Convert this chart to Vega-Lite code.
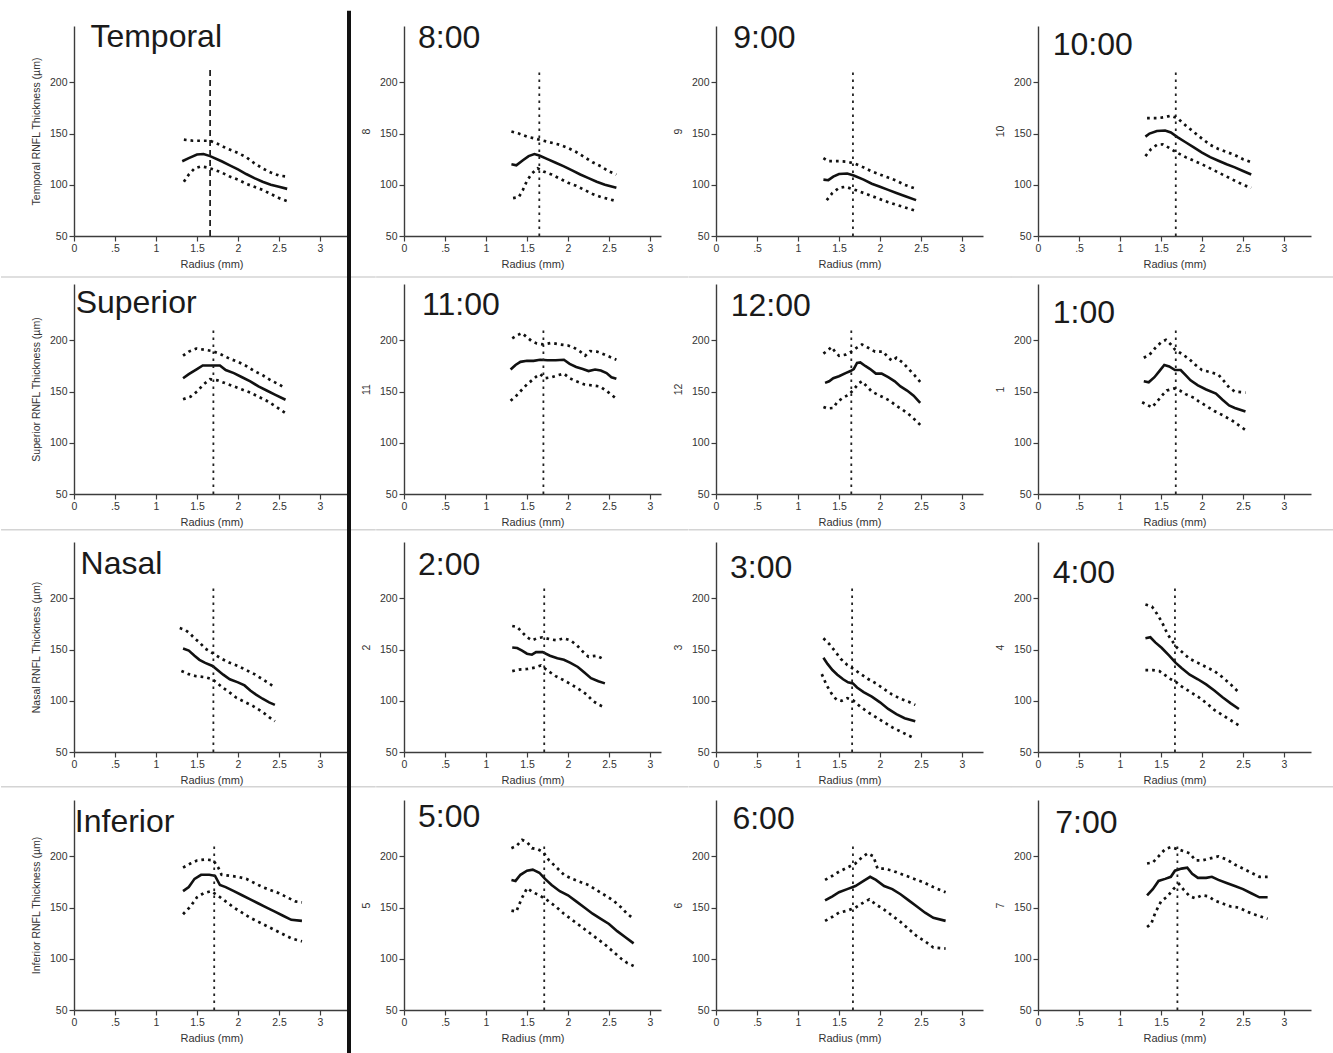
{
"$schema":"https://vega.github.io/schema/vega-lite/v6.json",
"background":"white",
"padding":{"left":0,"top":8,"right":0,"bottom":0},
"config":{
 "view":{"stroke":null},
 "axis":{"grid":false,"domainColor":"#3c3c3c","domainWidth":1.4,"tickColor":"#3c3c3c","tickWidth":1.2,"labelFont":"Liberation Sans","labelFontSize":10.5,"labelColor":"#333333","labelPadding":2,"labelOverlap":false,"labelFlush":false,"titleFont":"Liberation Sans","titleFontWeight":"normal","titleColor":"#333333"},
 "axisX":{"titleFontSize":11,"titlePadding":5},
 "axisY":{"titleFontSize":10.5,"titlePadding":8}
},
"datasets":{
"vl":[{"p":"T","r":1.66},{"p":"8","r":1.65},{"p":"9","r":1.67},{"p":"10","r":1.68},{"p":"S","r":1.70},{"p":"11","r":1.70},{"p":"12","r":1.65},{"p":"1","r":1.68},{"p":"N","r":1.70},{"p":"2","r":1.71},{"p":"3","r":1.66},{"p":"4","r":1.67},{"p":"I","r":1.71},{"p":"5","r":1.71},{"p":"6","r":1.67},{"p":"7","r":1.70}],
"c":[
{"p":"T","s":"m","r":1.32,"t":123},{"p":"T","s":"m","r":1.4,"t":126},{"p":"T","s":"m","r":1.5,"t":129.5},{"p":"T","s":"m","r":1.58,"t":130},{"p":"T","s":"m","r":1.66,"t":128},{"p":"T","s":"m","r":1.8,"t":123},{"p":"T","s":"m","r":1.9,"t":119},{"p":"T","s":"m","r":2.0,"t":115},{"p":"T","s":"m","r":2.1,"t":110.5},{"p":"T","s":"m","r":2.2,"t":106.5},{"p":"T","s":"m","r":2.3,"t":103},{"p":"T","s":"m","r":2.4,"t":100},{"p":"T","s":"m","r":2.5,"t":98},{"p":"T","s":"m","r":2.6,"t":96},
{"p":"T","s":"u","r":1.34,"t":144},{"p":"T","s":"u","r":1.45,"t":143},{"p":"T","s":"u","r":1.55,"t":143},{"p":"T","s":"u","r":1.66,"t":143},{"p":"T","s":"u","r":1.75,"t":140},{"p":"T","s":"u","r":1.85,"t":136},{"p":"T","s":"u","r":2.0,"t":131},{"p":"T","s":"u","r":2.1,"t":127},{"p":"T","s":"u","r":2.2,"t":121},{"p":"T","s":"u","r":2.3,"t":116},{"p":"T","s":"u","r":2.4,"t":112},{"p":"T","s":"u","r":2.5,"t":109},{"p":"T","s":"u","r":2.6,"t":108},
{"p":"T","s":"l","r":1.34,"t":103},{"p":"T","s":"l","r":1.4,"t":110},{"p":"T","s":"l","r":1.47,"t":116},{"p":"T","s":"l","r":1.55,"t":118},{"p":"T","s":"l","r":1.62,"t":117},{"p":"T","s":"l","r":1.7,"t":115},{"p":"T","s":"l","r":1.8,"t":112},{"p":"T","s":"l","r":1.9,"t":108},{"p":"T","s":"l","r":2.0,"t":105},{"p":"T","s":"l","r":2.1,"t":101},{"p":"T","s":"l","r":2.2,"t":98},{"p":"T","s":"l","r":2.3,"t":95},{"p":"T","s":"l","r":2.4,"t":91},{"p":"T","s":"l","r":2.5,"t":87},{"p":"T","s":"l","r":2.6,"t":84},
{"p":"8","s":"m","r":1.31,"t":120},{"p":"8","s":"m","r":1.37,"t":119},{"p":"8","s":"m","r":1.45,"t":124},{"p":"8","s":"m","r":1.52,"t":128},{"p":"8","s":"m","r":1.59,"t":130},{"p":"8","s":"m","r":1.65,"t":128.5},{"p":"8","s":"m","r":1.75,"t":125},{"p":"8","s":"m","r":1.85,"t":121.5},{"p":"8","s":"m","r":1.95,"t":118},{"p":"8","s":"m","r":2.05,"t":114},{"p":"8","s":"m","r":2.15,"t":110},{"p":"8","s":"m","r":2.25,"t":106.5},{"p":"8","s":"m","r":2.35,"t":103},{"p":"8","s":"m","r":2.45,"t":100},{"p":"8","s":"m","r":2.59,"t":97},
{"p":"8","s":"u","r":1.31,"t":152},{"p":"8","s":"u","r":1.4,"t":150},{"p":"8","s":"u","r":1.5,"t":147},{"p":"8","s":"u","r":1.6,"t":145},{"p":"8","s":"u","r":1.7,"t":143},{"p":"8","s":"u","r":1.8,"t":141},{"p":"8","s":"u","r":1.9,"t":139},{"p":"8","s":"u","r":2.0,"t":136},{"p":"8","s":"u","r":2.1,"t":132},{"p":"8","s":"u","r":2.2,"t":127},{"p":"8","s":"u","r":2.3,"t":122},{"p":"8","s":"u","r":2.4,"t":118},{"p":"8","s":"u","r":2.5,"t":113},{"p":"8","s":"u","r":2.59,"t":110},
{"p":"8","s":"l","r":1.33,"t":87},{"p":"8","s":"l","r":1.4,"t":88},{"p":"8","s":"l","r":1.45,"t":95},{"p":"8","s":"l","r":1.5,"t":104},{"p":"8","s":"l","r":1.56,"t":111},{"p":"8","s":"l","r":1.63,"t":116},{"p":"8","s":"l","r":1.7,"t":113},{"p":"8","s":"l","r":1.8,"t":110},{"p":"8","s":"l","r":1.9,"t":106},{"p":"8","s":"l","r":2.0,"t":102},{"p":"8","s":"l","r":2.1,"t":99},{"p":"8","s":"l","r":2.2,"t":95},{"p":"8","s":"l","r":2.3,"t":91},{"p":"8","s":"l","r":2.4,"t":88},{"p":"8","s":"l","r":2.5,"t":86},{"p":"8","s":"l","r":2.59,"t":84},
{"p":"9","s":"m","r":1.31,"t":105},{"p":"9","s":"m","r":1.37,"t":104.5},{"p":"9","s":"m","r":1.43,"t":108},{"p":"9","s":"m","r":1.5,"t":110.5},{"p":"9","s":"m","r":1.6,"t":111},{"p":"9","s":"m","r":1.68,"t":109},{"p":"9","s":"m","r":1.8,"t":105},{"p":"9","s":"m","r":1.9,"t":101},{"p":"9","s":"m","r":2.0,"t":98},{"p":"9","s":"m","r":2.1,"t":95},{"p":"9","s":"m","r":2.2,"t":92},{"p":"9","s":"m","r":2.3,"t":89},{"p":"9","s":"m","r":2.44,"t":85},
{"p":"9","s":"u","r":1.31,"t":126},{"p":"9","s":"u","r":1.37,"t":123},{"p":"9","s":"u","r":1.5,"t":123},{"p":"9","s":"u","r":1.6,"t":122.5},{"p":"9","s":"u","r":1.68,"t":121},{"p":"9","s":"u","r":1.8,"t":117},{"p":"9","s":"u","r":1.9,"t":113},{"p":"9","s":"u","r":2.0,"t":110},{"p":"9","s":"u","r":2.1,"t":107},{"p":"9","s":"u","r":2.2,"t":104},{"p":"9","s":"u","r":2.3,"t":100},{"p":"9","s":"u","r":2.44,"t":96},
{"p":"9","s":"l","r":1.35,"t":85},{"p":"9","s":"l","r":1.42,"t":92},{"p":"9","s":"l","r":1.5,"t":97},{"p":"9","s":"l","r":1.58,"t":98},{"p":"9","s":"l","r":1.68,"t":95.5},{"p":"9","s":"l","r":1.8,"t":92},{"p":"9","s":"l","r":1.9,"t":89},{"p":"9","s":"l","r":2.0,"t":86},{"p":"9","s":"l","r":2.1,"t":83},{"p":"9","s":"l","r":2.2,"t":80.5},{"p":"9","s":"l","r":2.3,"t":78},{"p":"9","s":"l","r":2.44,"t":74.5},
{"p":"10","s":"m","r":1.31,"t":147},{"p":"10","s":"m","r":1.36,"t":150},{"p":"10","s":"m","r":1.45,"t":152.5},{"p":"10","s":"m","r":1.55,"t":153},{"p":"10","s":"m","r":1.62,"t":151},{"p":"10","s":"m","r":1.7,"t":146.5},{"p":"10","s":"m","r":1.8,"t":141.5},{"p":"10","s":"m","r":1.9,"t":136.5},{"p":"10","s":"m","r":2.0,"t":131.5},{"p":"10","s":"m","r":2.1,"t":127},{"p":"10","s":"m","r":2.2,"t":123.5},{"p":"10","s":"m","r":2.3,"t":120},{"p":"10","s":"m","r":2.4,"t":117},{"p":"10","s":"m","r":2.5,"t":113.5},{"p":"10","s":"m","r":2.6,"t":110},
{"p":"10","s":"u","r":1.33,"t":165},{"p":"10","s":"u","r":1.45,"t":165},{"p":"10","s":"u","r":1.55,"t":166},{"p":"10","s":"u","r":1.62,"t":167.5},{"p":"10","s":"u","r":1.7,"t":165},{"p":"10","s":"u","r":1.8,"t":158},{"p":"10","s":"u","r":1.9,"t":151.5},{"p":"10","s":"u","r":2.0,"t":145},{"p":"10","s":"u","r":2.1,"t":139},{"p":"10","s":"u","r":2.2,"t":135},{"p":"10","s":"u","r":2.3,"t":132},{"p":"10","s":"u","r":2.4,"t":129},{"p":"10","s":"u","r":2.5,"t":125},{"p":"10","s":"u","r":2.6,"t":122},
{"p":"10","s":"l","r":1.31,"t":128},{"p":"10","s":"l","r":1.38,"t":135},{"p":"10","s":"l","r":1.45,"t":139},{"p":"10","s":"l","r":1.52,"t":139.5},{"p":"10","s":"l","r":1.6,"t":136},{"p":"10","s":"l","r":1.68,"t":132},{"p":"10","s":"l","r":1.8,"t":127},{"p":"10","s":"l","r":1.9,"t":123.5},{"p":"10","s":"l","r":2.0,"t":120},{"p":"10","s":"l","r":2.1,"t":116},{"p":"10","s":"l","r":2.2,"t":112},{"p":"10","s":"l","r":2.3,"t":108},{"p":"10","s":"l","r":2.4,"t":104},{"p":"10","s":"l","r":2.5,"t":100},{"p":"10","s":"l","r":2.6,"t":97},
{"p":"S","s":"m","r":1.33,"t":163},{"p":"S","s":"m","r":1.4,"t":167},{"p":"S","s":"m","r":1.5,"t":172},{"p":"S","s":"m","r":1.57,"t":175.5},{"p":"S","s":"m","r":1.65,"t":175.5},{"p":"S","s":"m","r":1.78,"t":175.5},{"p":"S","s":"m","r":1.85,"t":171},{"p":"S","s":"m","r":1.95,"t":168},{"p":"S","s":"m","r":2.05,"t":164},{"p":"S","s":"m","r":2.15,"t":160},{"p":"S","s":"m","r":2.25,"t":155},{"p":"S","s":"m","r":2.35,"t":151},{"p":"S","s":"m","r":2.45,"t":147},{"p":"S","s":"m","r":2.58,"t":142},
{"p":"S","s":"u","r":1.33,"t":185},{"p":"S","s":"u","r":1.4,"t":189},{"p":"S","s":"u","r":1.49,"t":192},{"p":"S","s":"u","r":1.58,"t":191},{"p":"S","s":"u","r":1.69,"t":189.5},{"p":"S","s":"u","r":1.8,"t":186},{"p":"S","s":"u","r":1.9,"t":182},{"p":"S","s":"u","r":2.0,"t":179},{"p":"S","s":"u","r":2.1,"t":175},{"p":"S","s":"u","r":2.2,"t":170},{"p":"S","s":"u","r":2.3,"t":166},{"p":"S","s":"u","r":2.4,"t":161},{"p":"S","s":"u","r":2.5,"t":157},{"p":"S","s":"u","r":2.58,"t":153},
{"p":"S","s":"l","r":1.33,"t":142.5},{"p":"S","s":"l","r":1.42,"t":145},{"p":"S","s":"l","r":1.5,"t":150},{"p":"S","s":"l","r":1.58,"t":157},{"p":"S","s":"l","r":1.66,"t":162},{"p":"S","s":"l","r":1.75,"t":161},{"p":"S","s":"l","r":1.85,"t":158},{"p":"S","s":"l","r":1.95,"t":155},{"p":"S","s":"l","r":2.05,"t":152},{"p":"S","s":"l","r":2.15,"t":149},{"p":"S","s":"l","r":2.25,"t":145},{"p":"S","s":"l","r":2.35,"t":141},{"p":"S","s":"l","r":2.45,"t":136},{"p":"S","s":"l","r":2.58,"t":129},
{"p":"11","s":"m","r":1.3,"t":171.5},{"p":"11","s":"m","r":1.36,"t":176},{"p":"11","s":"m","r":1.42,"t":179},{"p":"11","s":"m","r":1.5,"t":180},{"p":"11","s":"m","r":1.58,"t":180},{"p":"11","s":"m","r":1.66,"t":181},{"p":"11","s":"m","r":1.75,"t":180.5},{"p":"11","s":"m","r":1.85,"t":180.5},{"p":"11","s":"m","r":1.95,"t":181},{"p":"11","s":"m","r":2.02,"t":177},{"p":"11","s":"m","r":2.1,"t":174},{"p":"11","s":"m","r":2.18,"t":172},{"p":"11","s":"m","r":2.25,"t":170},{"p":"11","s":"m","r":2.33,"t":171.5},{"p":"11","s":"m","r":2.4,"t":170.5},{"p":"11","s":"m","r":2.47,"t":168},{"p":"11","s":"m","r":2.53,"t":164},{"p":"11","s":"m","r":2.59,"t":162.5},
{"p":"11","s":"u","r":1.32,"t":202},{"p":"11","s":"u","r":1.38,"t":205},{"p":"11","s":"u","r":1.44,"t":207},{"p":"11","s":"u","r":1.5,"t":203},{"p":"11","s":"u","r":1.56,"t":199},{"p":"11","s":"u","r":1.62,"t":197},{"p":"11","s":"u","r":1.7,"t":196},{"p":"11","s":"u","r":1.8,"t":197.5},{"p":"11","s":"u","r":1.9,"t":196},{"p":"11","s":"u","r":2.0,"t":195},{"p":"11","s":"u","r":2.07,"t":193},{"p":"11","s":"u","r":2.15,"t":189},{"p":"11","s":"u","r":2.21,"t":185},{"p":"11","s":"u","r":2.27,"t":189.5},{"p":"11","s":"u","r":2.35,"t":189},{"p":"11","s":"u","r":2.45,"t":186},{"p":"11","s":"u","r":2.59,"t":181},
{"p":"11","s":"l","r":1.3,"t":141},{"p":"11","s":"l","r":1.37,"t":146},{"p":"11","s":"l","r":1.44,"t":152},{"p":"11","s":"l","r":1.5,"t":157},{"p":"11","s":"l","r":1.56,"t":161},{"p":"11","s":"l","r":1.62,"t":165},{"p":"11","s":"l","r":1.66,"t":167},{"p":"11","s":"l","r":1.72,"t":163},{"p":"11","s":"l","r":1.8,"t":164},{"p":"11","s":"l","r":1.88,"t":166},{"p":"11","s":"l","r":1.95,"t":167.5},{"p":"11","s":"l","r":2.02,"t":163},{"p":"11","s":"l","r":2.1,"t":160},{"p":"11","s":"l","r":2.2,"t":157},{"p":"11","s":"l","r":2.3,"t":156},{"p":"11","s":"l","r":2.39,"t":155},{"p":"11","s":"l","r":2.48,"t":150},{"p":"11","s":"l","r":2.59,"t":143},
{"p":"12","s":"m","r":1.33,"t":158.5},{"p":"12","s":"m","r":1.38,"t":160},{"p":"12","s":"m","r":1.43,"t":163},{"p":"12","s":"m","r":1.5,"t":165},{"p":"12","s":"m","r":1.58,"t":168},{"p":"12","s":"m","r":1.64,"t":170},{"p":"12","s":"m","r":1.68,"t":172},{"p":"12","s":"m","r":1.72,"t":178},{"p":"12","s":"m","r":1.76,"t":178.5},{"p":"12","s":"m","r":1.82,"t":175},{"p":"12","s":"m","r":1.88,"t":172},{"p":"12","s":"m","r":1.95,"t":167.5},{"p":"12","s":"m","r":2.02,"t":167.5},{"p":"12","s":"m","r":2.1,"t":164},{"p":"12","s":"m","r":2.18,"t":160},{"p":"12","s":"m","r":2.25,"t":155},{"p":"12","s":"m","r":2.33,"t":151},{"p":"12","s":"m","r":2.41,"t":146},{"p":"12","s":"m","r":2.49,"t":139},
{"p":"12","s":"u","r":1.31,"t":187},{"p":"12","s":"u","r":1.36,"t":190},{"p":"12","s":"u","r":1.41,"t":193.5},{"p":"12","s":"u","r":1.45,"t":189},{"p":"12","s":"u","r":1.5,"t":185},{"p":"12","s":"u","r":1.58,"t":186},{"p":"12","s":"u","r":1.65,"t":189},{"p":"12","s":"u","r":1.72,"t":193},{"p":"12","s":"u","r":1.78,"t":196},{"p":"12","s":"u","r":1.85,"t":193},{"p":"12","s":"u","r":1.94,"t":189},{"p":"12","s":"u","r":2.04,"t":189},{"p":"12","s":"u","r":2.1,"t":183},{"p":"12","s":"u","r":2.15,"t":180},{"p":"12","s":"u","r":2.2,"t":183},{"p":"12","s":"u","r":2.28,"t":178},{"p":"12","s":"u","r":2.35,"t":172},{"p":"12","s":"u","r":2.42,"t":166},{"p":"12","s":"u","r":2.49,"t":159.5},
{"p":"12","s":"l","r":1.31,"t":135},{"p":"12","s":"l","r":1.36,"t":133.5},{"p":"12","s":"l","r":1.43,"t":134},{"p":"12","s":"l","r":1.48,"t":140},{"p":"12","s":"l","r":1.55,"t":144},{"p":"12","s":"l","r":1.62,"t":147},{"p":"12","s":"l","r":1.68,"t":152},{"p":"12","s":"l","r":1.74,"t":158},{"p":"12","s":"l","r":1.78,"t":160},{"p":"12","s":"l","r":1.84,"t":155},{"p":"12","s":"l","r":1.9,"t":150},{"p":"12","s":"l","r":1.97,"t":147},{"p":"12","s":"l","r":2.05,"t":144},{"p":"12","s":"l","r":2.12,"t":141},{"p":"12","s":"l","r":2.2,"t":136},{"p":"12","s":"l","r":2.28,"t":132},{"p":"12","s":"l","r":2.38,"t":126},{"p":"12","s":"l","r":2.49,"t":117.5},
{"p":"1","s":"m","r":1.29,"t":160},{"p":"1","s":"m","r":1.35,"t":159},{"p":"1","s":"m","r":1.42,"t":164},{"p":"1","s":"m","r":1.48,"t":170},{"p":"1","s":"m","r":1.54,"t":176},{"p":"1","s":"m","r":1.6,"t":174.5},{"p":"1","s":"m","r":1.67,"t":171},{"p":"1","s":"m","r":1.74,"t":171},{"p":"1","s":"m","r":1.8,"t":166},{"p":"1","s":"m","r":1.86,"t":161},{"p":"1","s":"m","r":1.95,"t":156},{"p":"1","s":"m","r":2.05,"t":152},{"p":"1","s":"m","r":2.17,"t":148},{"p":"1","s":"m","r":2.25,"t":142},{"p":"1","s":"m","r":2.33,"t":136.5},{"p":"1","s":"m","r":2.4,"t":134},{"p":"1","s":"m","r":2.53,"t":130.5},
{"p":"1","s":"u","r":1.29,"t":183},{"p":"1","s":"u","r":1.36,"t":186},{"p":"1","s":"u","r":1.43,"t":192.5},{"p":"1","s":"u","r":1.5,"t":198},{"p":"1","s":"u","r":1.56,"t":200.5},{"p":"1","s":"u","r":1.62,"t":196},{"p":"1","s":"u","r":1.67,"t":191},{"p":"1","s":"u","r":1.75,"t":187},{"p":"1","s":"u","r":1.84,"t":182},{"p":"1","s":"u","r":1.92,"t":176},{"p":"1","s":"u","r":2.0,"t":171},{"p":"1","s":"u","r":2.1,"t":169},{"p":"1","s":"u","r":2.2,"t":166.5},{"p":"1","s":"u","r":2.27,"t":160},{"p":"1","s":"u","r":2.33,"t":154},{"p":"1","s":"u","r":2.4,"t":150},{"p":"1","s":"u","r":2.53,"t":149},
{"p":"1","s":"l","r":1.27,"t":139.5},{"p":"1","s":"l","r":1.33,"t":137},{"p":"1","s":"l","r":1.39,"t":134.5},{"p":"1","s":"l","r":1.45,"t":140},{"p":"1","s":"l","r":1.51,"t":146},{"p":"1","s":"l","r":1.57,"t":151},{"p":"1","s":"l","r":1.66,"t":153},{"p":"1","s":"l","r":1.73,"t":151},{"p":"1","s":"l","r":1.8,"t":147.5},{"p":"1","s":"l","r":1.9,"t":144},{"p":"1","s":"l","r":1.96,"t":140.5},{"p":"1","s":"l","r":2.05,"t":136},{"p":"1","s":"l","r":2.15,"t":131},{"p":"1","s":"l","r":2.25,"t":127},{"p":"1","s":"l","r":2.37,"t":121.5},{"p":"1","s":"l","r":2.45,"t":117},{"p":"1","s":"l","r":2.53,"t":112.5},
{"p":"N","s":"m","r":1.33,"t":151},{"p":"N","s":"m","r":1.4,"t":149},{"p":"N","s":"m","r":1.47,"t":144},{"p":"N","s":"m","r":1.53,"t":140},{"p":"N","s":"m","r":1.6,"t":137},{"p":"N","s":"m","r":1.69,"t":134},{"p":"N","s":"m","r":1.75,"t":130},{"p":"N","s":"m","r":1.82,"t":125.5},{"p":"N","s":"m","r":1.9,"t":121},{"p":"N","s":"m","r":2.0,"t":118},{"p":"N","s":"m","r":2.08,"t":115},{"p":"N","s":"m","r":2.15,"t":110},{"p":"N","s":"m","r":2.22,"t":106},{"p":"N","s":"m","r":2.3,"t":102},{"p":"N","s":"m","r":2.38,"t":98.5},{"p":"N","s":"m","r":2.45,"t":96},
{"p":"N","s":"u","r":1.29,"t":171},{"p":"N","s":"u","r":1.36,"t":169},{"p":"N","s":"u","r":1.41,"t":166},{"p":"N","s":"u","r":1.47,"t":161},{"p":"N","s":"u","r":1.53,"t":157},{"p":"N","s":"u","r":1.6,"t":151},{"p":"N","s":"u","r":1.69,"t":146.5},{"p":"N","s":"u","r":1.8,"t":141},{"p":"N","s":"u","r":1.9,"t":137},{"p":"N","s":"u","r":2.0,"t":134},{"p":"N","s":"u","r":2.1,"t":130},{"p":"N","s":"u","r":2.2,"t":126},{"p":"N","s":"u","r":2.3,"t":121},{"p":"N","s":"u","r":2.38,"t":117},{"p":"N","s":"u","r":2.45,"t":113},
{"p":"N","s":"l","r":1.31,"t":129},{"p":"N","s":"l","r":1.4,"t":126},{"p":"N","s":"l","r":1.49,"t":124},{"p":"N","s":"l","r":1.6,"t":123},{"p":"N","s":"l","r":1.69,"t":121},{"p":"N","s":"l","r":1.75,"t":117},{"p":"N","s":"l","r":1.82,"t":112.5},{"p":"N","s":"l","r":1.9,"t":108},{"p":"N","s":"l","r":1.98,"t":103},{"p":"N","s":"l","r":2.08,"t":99},{"p":"N","s":"l","r":2.18,"t":95},{"p":"N","s":"l","r":2.3,"t":89},{"p":"N","s":"l","r":2.38,"t":84},{"p":"N","s":"l","r":2.45,"t":80},
{"p":"2","s":"m","r":1.32,"t":152},{"p":"2","s":"m","r":1.38,"t":151.5},{"p":"2","s":"m","r":1.44,"t":149},{"p":"2","s":"m","r":1.5,"t":146},{"p":"2","s":"m","r":1.56,"t":145},{"p":"2","s":"m","r":1.61,"t":147.5},{"p":"2","s":"m","r":1.69,"t":147.5},{"p":"2","s":"m","r":1.78,"t":144},{"p":"2","s":"m","r":1.87,"t":141.5},{"p":"2","s":"m","r":1.95,"t":140},{"p":"2","s":"m","r":2.03,"t":137},{"p":"2","s":"m","r":2.12,"t":133},{"p":"2","s":"m","r":2.2,"t":127.5},{"p":"2","s":"m","r":2.28,"t":122},{"p":"2","s":"m","r":2.37,"t":119},{"p":"2","s":"m","r":2.45,"t":117},
{"p":"2","s":"u","r":1.32,"t":173},{"p":"2","s":"u","r":1.38,"t":172},{"p":"2","s":"u","r":1.44,"t":167},{"p":"2","s":"u","r":1.5,"t":162},{"p":"2","s":"u","r":1.56,"t":159},{"p":"2","s":"u","r":1.62,"t":161},{"p":"2","s":"u","r":1.69,"t":162},{"p":"2","s":"u","r":1.78,"t":160},{"p":"2","s":"u","r":1.86,"t":159},{"p":"2","s":"u","r":1.95,"t":161},{"p":"2","s":"u","r":2.03,"t":159},{"p":"2","s":"u","r":2.11,"t":154},{"p":"2","s":"u","r":2.18,"t":148},{"p":"2","s":"u","r":2.25,"t":143},{"p":"2","s":"u","r":2.35,"t":144},{"p":"2","s":"u","r":2.45,"t":140},
{"p":"2","s":"l","r":1.32,"t":129},{"p":"2","s":"l","r":1.4,"t":130.5},{"p":"2","s":"l","r":1.5,"t":131},{"p":"2","s":"l","r":1.6,"t":132.5},{"p":"2","s":"l","r":1.67,"t":134.5},{"p":"2","s":"l","r":1.75,"t":129.5},{"p":"2","s":"l","r":1.85,"t":124},{"p":"2","s":"l","r":1.95,"t":120},{"p":"2","s":"l","r":2.05,"t":115.5},{"p":"2","s":"l","r":2.15,"t":110.5},{"p":"2","s":"l","r":2.23,"t":106},{"p":"2","s":"l","r":2.3,"t":100},{"p":"2","s":"l","r":2.38,"t":96},{"p":"2","s":"l","r":2.45,"t":93.5},
{"p":"3","s":"m","r":1.31,"t":142},{"p":"3","s":"m","r":1.36,"t":136},{"p":"3","s":"m","r":1.42,"t":130},{"p":"3","s":"m","r":1.48,"t":125.5},{"p":"3","s":"m","r":1.55,"t":121},{"p":"3","s":"m","r":1.61,"t":118},{"p":"3","s":"m","r":1.67,"t":117},{"p":"3","s":"m","r":1.72,"t":113},{"p":"3","s":"m","r":1.8,"t":108.5},{"p":"3","s":"m","r":1.9,"t":104},{"p":"3","s":"m","r":2.0,"t":98.5},{"p":"3","s":"m","r":2.1,"t":92},{"p":"3","s":"m","r":2.2,"t":87},{"p":"3","s":"m","r":2.3,"t":83},{"p":"3","s":"m","r":2.43,"t":80},
{"p":"3","s":"u","r":1.31,"t":161},{"p":"3","s":"u","r":1.38,"t":155.5},{"p":"3","s":"u","r":1.45,"t":148.5},{"p":"3","s":"u","r":1.52,"t":141},{"p":"3","s":"u","r":1.6,"t":135},{"p":"3","s":"u","r":1.67,"t":131.5},{"p":"3","s":"u","r":1.75,"t":127},{"p":"3","s":"u","r":1.85,"t":121.5},{"p":"3","s":"u","r":1.95,"t":117},{"p":"3","s":"u","r":2.05,"t":111.5},{"p":"3","s":"u","r":2.14,"t":106.5},{"p":"3","s":"u","r":2.25,"t":102},{"p":"3","s":"u","r":2.35,"t":99},{"p":"3","s":"u","r":2.43,"t":96},
{"p":"3","s":"l","r":1.29,"t":126},{"p":"3","s":"l","r":1.35,"t":115},{"p":"3","s":"l","r":1.41,"t":107},{"p":"3","s":"l","r":1.47,"t":101},{"p":"3","s":"l","r":1.53,"t":100},{"p":"3","s":"l","r":1.6,"t":102.5},{"p":"3","s":"l","r":1.67,"t":100.5},{"p":"3","s":"l","r":1.75,"t":95},{"p":"3","s":"l","r":1.85,"t":89},{"p":"3","s":"l","r":1.95,"t":84},{"p":"3","s":"l","r":2.05,"t":79},{"p":"3","s":"l","r":2.15,"t":74},{"p":"3","s":"l","r":2.25,"t":70},{"p":"3","s":"l","r":2.35,"t":66},{"p":"3","s":"l","r":2.43,"t":63},
{"p":"4","s":"m","r":1.31,"t":161},{"p":"4","s":"m","r":1.37,"t":162},{"p":"4","s":"m","r":1.43,"t":157},{"p":"4","s":"m","r":1.51,"t":151.5},{"p":"4","s":"m","r":1.6,"t":144},{"p":"4","s":"m","r":1.68,"t":137},{"p":"4","s":"m","r":1.75,"t":132},{"p":"4","s":"m","r":1.85,"t":125.5},{"p":"4","s":"m","r":1.95,"t":121},{"p":"4","s":"m","r":2.05,"t":116},{"p":"4","s":"m","r":2.15,"t":110},{"p":"4","s":"m","r":2.25,"t":103.5},{"p":"4","s":"m","r":2.35,"t":97.5},{"p":"4","s":"m","r":2.45,"t":92},
{"p":"4","s":"u","r":1.31,"t":194},{"p":"4","s":"u","r":1.39,"t":192},{"p":"4","s":"u","r":1.45,"t":185},{"p":"4","s":"u","r":1.51,"t":177},{"p":"4","s":"u","r":1.58,"t":165},{"p":"4","s":"u","r":1.64,"t":158},{"p":"4","s":"u","r":1.68,"t":153},{"p":"4","s":"u","r":1.75,"t":148},{"p":"4","s":"u","r":1.85,"t":141},{"p":"4","s":"u","r":1.95,"t":137},{"p":"4","s":"u","r":2.05,"t":133},{"p":"4","s":"u","r":2.15,"t":129},{"p":"4","s":"u","r":2.25,"t":123},{"p":"4","s":"u","r":2.35,"t":116},{"p":"4","s":"u","r":2.45,"t":108},
{"p":"4","s":"l","r":1.31,"t":130},{"p":"4","s":"l","r":1.4,"t":130},{"p":"4","s":"l","r":1.48,"t":129},{"p":"4","s":"l","r":1.55,"t":125},{"p":"4","s":"l","r":1.62,"t":121},{"p":"4","s":"l","r":1.68,"t":118.5},{"p":"4","s":"l","r":1.75,"t":114},{"p":"4","s":"l","r":1.85,"t":109},{"p":"4","s":"l","r":1.95,"t":104},{"p":"4","s":"l","r":2.05,"t":98},{"p":"4","s":"l","r":2.15,"t":91},{"p":"4","s":"l","r":2.25,"t":86},{"p":"4","s":"l","r":2.35,"t":81},{"p":"4","s":"l","r":2.45,"t":76},
{"p":"I","s":"m","r":1.33,"t":166},{"p":"I","s":"m","r":1.4,"t":170},{"p":"I","s":"m","r":1.47,"t":178},{"p":"I","s":"m","r":1.55,"t":182},{"p":"I","s":"m","r":1.65,"t":182},{"p":"I","s":"m","r":1.72,"t":181},{"p":"I","s":"m","r":1.78,"t":172},{"p":"I","s":"m","r":1.85,"t":170},{"p":"I","s":"m","r":1.95,"t":166},{"p":"I","s":"m","r":2.05,"t":162},{"p":"I","s":"m","r":2.15,"t":158},{"p":"I","s":"m","r":2.25,"t":154},{"p":"I","s":"m","r":2.35,"t":150},{"p":"I","s":"m","r":2.45,"t":146},{"p":"I","s":"m","r":2.55,"t":142},{"p":"I","s":"m","r":2.65,"t":138},{"p":"I","s":"m","r":2.78,"t":137},
{"p":"I","s":"u","r":1.33,"t":189},{"p":"I","s":"u","r":1.42,"t":193},{"p":"I","s":"u","r":1.5,"t":196},{"p":"I","s":"u","r":1.6,"t":197},{"p":"I","s":"u","r":1.7,"t":196},{"p":"I","s":"u","r":1.76,"t":189},{"p":"I","s":"u","r":1.8,"t":182},{"p":"I","s":"u","r":1.9,"t":181},{"p":"I","s":"u","r":2.0,"t":180},{"p":"I","s":"u","r":2.1,"t":178},{"p":"I","s":"u","r":2.2,"t":174},{"p":"I","s":"u","r":2.3,"t":170},{"p":"I","s":"u","r":2.4,"t":167},{"p":"I","s":"u","r":2.5,"t":164},{"p":"I","s":"u","r":2.6,"t":160},{"p":"I","s":"u","r":2.7,"t":156},{"p":"I","s":"u","r":2.78,"t":155},
{"p":"I","s":"l","r":1.33,"t":143.5},{"p":"I","s":"l","r":1.42,"t":151},{"p":"I","s":"l","r":1.5,"t":160},{"p":"I","s":"l","r":1.58,"t":164},{"p":"I","s":"l","r":1.67,"t":166},{"p":"I","s":"l","r":1.75,"t":162},{"p":"I","s":"l","r":1.85,"t":156},{"p":"I","s":"l","r":1.95,"t":150},{"p":"I","s":"l","r":2.05,"t":145},{"p":"I","s":"l","r":2.15,"t":140},{"p":"I","s":"l","r":2.25,"t":136},{"p":"I","s":"l","r":2.35,"t":132},{"p":"I","s":"l","r":2.45,"t":128},{"p":"I","s":"l","r":2.55,"t":124},{"p":"I","s":"l","r":2.65,"t":120},{"p":"I","s":"l","r":2.78,"t":117},
{"p":"5","s":"m","r":1.31,"t":177},{"p":"5","s":"m","r":1.36,"t":176},{"p":"5","s":"m","r":1.42,"t":182},{"p":"5","s":"m","r":1.5,"t":186},{"p":"5","s":"m","r":1.57,"t":187},{"p":"5","s":"m","r":1.65,"t":184},{"p":"5","s":"m","r":1.72,"t":178},{"p":"5","s":"m","r":1.8,"t":172},{"p":"5","s":"m","r":1.9,"t":166},{"p":"5","s":"m","r":2.0,"t":162},{"p":"5","s":"m","r":2.1,"t":156},{"p":"5","s":"m","r":2.2,"t":150},{"p":"5","s":"m","r":2.3,"t":144},{"p":"5","s":"m","r":2.4,"t":139},{"p":"5","s":"m","r":2.5,"t":134},{"p":"5","s":"m","r":2.6,"t":127},{"p":"5","s":"m","r":2.7,"t":121},{"p":"5","s":"m","r":2.8,"t":115},
{"p":"5","s":"u","r":1.31,"t":208},{"p":"5","s":"u","r":1.37,"t":210},{"p":"5","s":"u","r":1.44,"t":216},{"p":"5","s":"u","r":1.5,"t":214},{"p":"5","s":"u","r":1.56,"t":208},{"p":"5","s":"u","r":1.63,"t":207},{"p":"5","s":"u","r":1.7,"t":204},{"p":"5","s":"u","r":1.77,"t":196},{"p":"5","s":"u","r":1.85,"t":190},{"p":"5","s":"u","r":1.95,"t":182},{"p":"5","s":"u","r":2.05,"t":178},{"p":"5","s":"u","r":2.15,"t":175},{"p":"5","s":"u","r":2.25,"t":172},{"p":"5","s":"u","r":2.35,"t":167},{"p":"5","s":"u","r":2.45,"t":162},{"p":"5","s":"u","r":2.55,"t":157},{"p":"5","s":"u","r":2.65,"t":150},{"p":"5","s":"u","r":2.72,"t":144},{"p":"5","s":"u","r":2.8,"t":139},
{"p":"5","s":"l","r":1.31,"t":147},{"p":"5","s":"l","r":1.37,"t":146},{"p":"5","s":"l","r":1.43,"t":158},{"p":"5","s":"l","r":1.5,"t":169},{"p":"5","s":"l","r":1.57,"t":165},{"p":"5","s":"l","r":1.65,"t":162},{"p":"5","s":"l","r":1.75,"t":157},{"p":"5","s":"l","r":1.85,"t":151},{"p":"5","s":"l","r":1.95,"t":144},{"p":"5","s":"l","r":2.05,"t":138},{"p":"5","s":"l","r":2.15,"t":132},{"p":"5","s":"l","r":2.25,"t":126},{"p":"5","s":"l","r":2.35,"t":120},{"p":"5","s":"l","r":2.45,"t":114},{"p":"5","s":"l","r":2.55,"t":107},{"p":"5","s":"l","r":2.65,"t":100},{"p":"5","s":"l","r":2.72,"t":96},{"p":"5","s":"l","r":2.8,"t":93},
{"p":"6","s":"m","r":1.33,"t":157},{"p":"6","s":"m","r":1.42,"t":161},{"p":"6","s":"m","r":1.5,"t":165},{"p":"6","s":"m","r":1.6,"t":168},{"p":"6","s":"m","r":1.7,"t":171},{"p":"6","s":"m","r":1.8,"t":176},{"p":"6","s":"m","r":1.88,"t":180},{"p":"6","s":"m","r":1.95,"t":177},{"p":"6","s":"m","r":2.05,"t":171},{"p":"6","s":"m","r":2.15,"t":168},{"p":"6","s":"m","r":2.25,"t":163},{"p":"6","s":"m","r":2.35,"t":157},{"p":"6","s":"m","r":2.45,"t":151},{"p":"6","s":"m","r":2.55,"t":145},{"p":"6","s":"m","r":2.65,"t":140},{"p":"6","s":"m","r":2.8,"t":137},
{"p":"6","s":"u","r":1.33,"t":177},{"p":"6","s":"u","r":1.42,"t":181},{"p":"6","s":"u","r":1.5,"t":185},{"p":"6","s":"u","r":1.6,"t":189},{"p":"6","s":"u","r":1.7,"t":193},{"p":"6","s":"u","r":1.78,"t":199},{"p":"6","s":"u","r":1.85,"t":203},{"p":"6","s":"u","r":1.92,"t":200},{"p":"6","s":"u","r":1.97,"t":188},{"p":"6","s":"u","r":2.05,"t":188},{"p":"6","s":"u","r":2.15,"t":186},{"p":"6","s":"u","r":2.25,"t":183},{"p":"6","s":"u","r":2.35,"t":180},{"p":"6","s":"u","r":2.45,"t":177},{"p":"6","s":"u","r":2.55,"t":174},{"p":"6","s":"u","r":2.65,"t":170},{"p":"6","s":"u","r":2.8,"t":165},
{"p":"6","s":"l","r":1.33,"t":137},{"p":"6","s":"l","r":1.42,"t":141},{"p":"6","s":"l","r":1.5,"t":145},{"p":"6","s":"l","r":1.6,"t":147},{"p":"6","s":"l","r":1.7,"t":150},{"p":"6","s":"l","r":1.8,"t":155},{"p":"6","s":"l","r":1.87,"t":158},{"p":"6","s":"l","r":1.95,"t":153},{"p":"6","s":"l","r":2.05,"t":148},{"p":"6","s":"l","r":2.15,"t":142},{"p":"6","s":"l","r":2.25,"t":136},{"p":"6","s":"l","r":2.35,"t":129},{"p":"6","s":"l","r":2.45,"t":122},{"p":"6","s":"l","r":2.55,"t":117},{"p":"6","s":"l","r":2.65,"t":111},{"p":"6","s":"l","r":2.8,"t":110},
{"p":"7","s":"m","r":1.33,"t":162},{"p":"7","s":"m","r":1.4,"t":168},{"p":"7","s":"m","r":1.47,"t":176},{"p":"7","s":"m","r":1.55,"t":178},{"p":"7","s":"m","r":1.62,"t":180},{"p":"7","s":"m","r":1.67,"t":186},{"p":"7","s":"m","r":1.75,"t":188},{"p":"7","s":"m","r":1.82,"t":189},{"p":"7","s":"m","r":1.88,"t":183},{"p":"7","s":"m","r":1.95,"t":179},{"p":"7","s":"m","r":2.05,"t":179},{"p":"7","s":"m","r":2.12,"t":180},{"p":"7","s":"m","r":2.2,"t":177},{"p":"7","s":"m","r":2.3,"t":174},{"p":"7","s":"m","r":2.4,"t":171},{"p":"7","s":"m","r":2.5,"t":168},{"p":"7","s":"m","r":2.6,"t":164},{"p":"7","s":"m","r":2.7,"t":160},{"p":"7","s":"m","r":2.8,"t":160},
{"p":"7","s":"u","r":1.33,"t":193},{"p":"7","s":"u","r":1.4,"t":194},{"p":"7","s":"u","r":1.47,"t":200},{"p":"7","s":"u","r":1.55,"t":207},{"p":"7","s":"u","r":1.62,"t":209},{"p":"7","s":"u","r":1.7,"t":207},{"p":"7","s":"u","r":1.78,"t":205},{"p":"7","s":"u","r":1.85,"t":203},{"p":"7","s":"u","r":1.92,"t":196},{"p":"7","s":"u","r":2.0,"t":196},{"p":"7","s":"u","r":2.1,"t":198},{"p":"7","s":"u","r":2.2,"t":200},{"p":"7","s":"u","r":2.3,"t":197},{"p":"7","s":"u","r":2.4,"t":192},{"p":"7","s":"u","r":2.5,"t":188},{"p":"7","s":"u","r":2.6,"t":184},{"p":"7","s":"u","r":2.7,"t":180},{"p":"7","s":"u","r":2.8,"t":180},
{"p":"7","s":"l","r":1.33,"t":131},{"p":"7","s":"l","r":1.38,"t":134},{"p":"7","s":"l","r":1.43,"t":145},{"p":"7","s":"l","r":1.5,"t":156},{"p":"7","s":"l","r":1.58,"t":161},{"p":"7","s":"l","r":1.65,"t":168},{"p":"7","s":"l","r":1.72,"t":173},{"p":"7","s":"l","r":1.78,"t":167},{"p":"7","s":"l","r":1.85,"t":161},{"p":"7","s":"l","r":1.92,"t":159},{"p":"7","s":"l","r":2.0,"t":162},{"p":"7","s":"l","r":2.08,"t":161},{"p":"7","s":"l","r":2.15,"t":157},{"p":"7","s":"l","r":2.25,"t":154},{"p":"7","s":"l","r":2.35,"t":151},{"p":"7","s":"l","r":2.45,"t":150},{"p":"7","s":"l","r":2.55,"t":146},{"p":"7","s":"l","r":2.65,"t":143},{"p":"7","s":"l","r":2.8,"t":139}
]},
"columns":4,
"spacing":{"row":48,"column":55},
"bounds":"flush",
"concat":[
{"width":275,"height":210,"layer":[
 {"data":{"name":"c"},"transform":[{"filter":"datum.p=='T' && datum.s=='m'"}],"mark":{"type":"line","color":"#111111","strokeWidth":2.6},"encoding":{
  "x":{"field":"r","type":"quantitative","scale":{"domain":[0,3.354],"nice":false,"zero":false},"axis":{"title":"Radius (mm)","values":[0,0.25,0.5,0.75,1,1.25,1.5,1.75,2,2.25,2.5,2.75,3],"labelExpr":"datum.value == 0.5 ? '.5' : (datum.value % 0.5 == 0 ? '' + datum.value : '')","tickSize":{"condition":{"test":"datum.value % 0.5 == 0","value":5},"value":3}}},
  "y":{"field":"t","type":"quantitative","scale":{"domain":[50,255],"nice":false,"zero":false},"axis":{"title":"Temporal RNFL Thickness (µm)","values":[50,75,100,125,150,175,200,225],"labelExpr":"datum.value % 50 == 0 ? '' + datum.value : ''","tickSize":{"condition":{"test":"datum.value % 50 == 0","value":5},"value":3}}}}},
 {"data":{"values":[{}]},"mark":{"type":"rule","color":"#d4d4d4","strokeWidth":1.5},"encoding":{"x":{"datum":-0.89},"x2":{"datum":3.68},"y":{"datum":10}}},
 {"data":{"values":[{}]},"mark":{"type":"rule","color":"#111111","strokeWidth":4},"encoding":{"x":{"datum":3.354},"y":{"datum":270},"y2":{"datum":0}}},
 {"data":{"name":"vl"},"transform":[{"filter":"datum.p=='T'"}],"mark":{"type":"rule","color":"#222222","strokeWidth":1.8,"strokeDash":[6,4]},"encoding":{"x":{"field":"r","type":"quantitative"},"y":{"datum":50},"y2":{"datum":212}}},
 {"data":{"name":"c"},"transform":[{"filter":"datum.p=='T' && datum.s!='m'"}],"mark":{"type":"line","color":"#111111","strokeWidth":2.7,"strokeDash":[2.7,4],"strokeCap":"butt"},"encoding":{"x":{"field":"r","type":"quantitative"},"y":{"field":"t","type":"quantitative"},"detail":{"field":"s","type":"nominal"}}},
 {"data":{"values":[{}]},"mark":{"type":"text","text":"Temporal","font":"Liberation Sans","fontSize":32,"align":"left","baseline":"alphabetic","color":"#1a1a1a"},"encoding":{"x":{"datum":0.2},"y":{"datum":234.5}}}
]},
{"width":257,"height":210,"layer":[
 {"data":{"name":"c"},"transform":[{"filter":"datum.p=='8' && datum.s=='m'"}],"mark":{"type":"line","color":"#111111","strokeWidth":2.6},"encoding":{
  "x":{"field":"r","type":"quantitative","scale":{"domain":[0,3.134],"nice":false,"zero":false},"axis":{"title":"Radius (mm)","values":[0,0.25,0.5,0.75,1,1.25,1.5,1.75,2,2.25,2.5,2.75,3],"labelExpr":"datum.value == 0.5 ? '.5' : (datum.value % 0.5 == 0 ? '' + datum.value : '')","tickSize":{"condition":{"test":"datum.value % 0.5 == 0","value":5},"value":3}}},
  "y":{"field":"t","type":"quantitative","scale":{"domain":[50,255],"nice":false,"zero":false},"axis":{"title":"8","values":[50,75,100,125,150,175,200,225],"labelExpr":"datum.value % 50 == 0 ? '' + datum.value : ''","tickSize":{"condition":{"test":"datum.value % 50 == 0","value":5},"value":3}}}}},
 {"data":{"values":[{}]},"mark":{"type":"rule","color":"#d4d4d4","strokeWidth":1.5},"encoding":{"x":{"datum":-0.34},"x2":{"datum":3.47},"y":{"datum":10}}},
 {"data":{"name":"vl"},"transform":[{"filter":"datum.p=='8'"}],"mark":{"type":"rule","color":"#222222","strokeWidth":1.8,"strokeDash":[2.5,4.5]},"encoding":{"x":{"field":"r","type":"quantitative"},"y":{"datum":50},"y2":{"datum":212}}},
 {"data":{"name":"c"},"transform":[{"filter":"datum.p=='8' && datum.s!='m'"}],"mark":{"type":"line","color":"#111111","strokeWidth":2.7,"strokeDash":[2.7,4],"strokeCap":"butt"},"encoding":{"x":{"field":"r","type":"quantitative"},"y":{"field":"t","type":"quantitative"},"detail":{"field":"s","type":"nominal"}}},
 {"data":{"values":[{}]},"mark":{"type":"text","text":"8:00","font":"Liberation Sans","fontSize":32,"align":"left","baseline":"alphabetic","color":"#1a1a1a"},"encoding":{"x":{"datum":0.17},"y":{"datum":233.5}}}
]},
{"width":267,"height":210,"layer":[
 {"data":{"name":"c"},"transform":[{"filter":"datum.p=='9' && datum.s=='m'"}],"mark":{"type":"line","color":"#111111","strokeWidth":2.6},"encoding":{
  "x":{"field":"r","type":"quantitative","scale":{"domain":[0,3.256],"nice":false,"zero":false},"axis":{"title":"Radius (mm)","values":[0,0.25,0.5,0.75,1,1.25,1.5,1.75,2,2.25,2.5,2.75,3,3.25],"labelExpr":"datum.value == 0.5 ? '.5' : (datum.value % 0.5 == 0 ? '' + datum.value : '')","tickSize":{"condition":{"test":"datum.value % 0.5 == 0","value":5},"value":3}}},
  "y":{"field":"t","type":"quantitative","scale":{"domain":[50,255],"nice":false,"zero":false},"axis":{"title":"9","values":[50,75,100,125,150,175,200,225],"labelExpr":"datum.value % 50 == 0 ? '' + datum.value : ''","tickSize":{"condition":{"test":"datum.value % 50 == 0","value":5},"value":3}}}}},
 {"data":{"values":[{}]},"mark":{"type":"rule","color":"#d4d4d4","strokeWidth":1.5},"encoding":{"x":{"datum":-0.33},"x2":{"datum":3.6},"y":{"datum":10}}},
 {"data":{"name":"vl"},"transform":[{"filter":"datum.p=='9'"}],"mark":{"type":"rule","color":"#222222","strokeWidth":1.8,"strokeDash":[2.5,4.5]},"encoding":{"x":{"field":"r","type":"quantitative"},"y":{"datum":50},"y2":{"datum":212}}},
 {"data":{"name":"c"},"transform":[{"filter":"datum.p=='9' && datum.s!='m'"}],"mark":{"type":"line","color":"#111111","strokeWidth":2.7,"strokeDash":[2.7,4],"strokeCap":"butt"},"encoding":{"x":{"field":"r","type":"quantitative"},"y":{"field":"t","type":"quantitative"},"detail":{"field":"s","type":"nominal"}}},
 {"data":{"values":[{}]},"mark":{"type":"text","text":"9:00","font":"Liberation Sans","fontSize":32,"align":"left","baseline":"alphabetic","color":"#1a1a1a"},"encoding":{"x":{"datum":0.21},"y":{"datum":233.5}}}
]},
{"width":273,"height":210,"layer":[
 {"data":{"name":"c"},"transform":[{"filter":"datum.p=='10' && datum.s=='m'"}],"mark":{"type":"line","color":"#111111","strokeWidth":2.6},"encoding":{
  "x":{"field":"r","type":"quantitative","scale":{"domain":[0,3.329],"nice":false,"zero":false},"axis":{"title":"Radius (mm)","values":[0,0.25,0.5,0.75,1,1.25,1.5,1.75,2,2.25,2.5,2.75,3,3.25],"labelExpr":"datum.value == 0.5 ? '.5' : (datum.value % 0.5 == 0 ? '' + datum.value : '')","tickSize":{"condition":{"test":"datum.value % 0.5 == 0","value":5},"value":3}}},
  "y":{"field":"t","type":"quantitative","scale":{"domain":[50,255],"nice":false,"zero":false},"axis":{"title":"10","values":[50,75,100,125,150,175,200,225],"labelExpr":"datum.value % 50 == 0 ? '' + datum.value : ''","tickSize":{"condition":{"test":"datum.value % 50 == 0","value":5},"value":3}}}}},
 {"data":{"values":[{}]},"mark":{"type":"rule","color":"#d4d4d4","strokeWidth":1.5},"encoding":{"x":{"datum":-0.33},"x2":{"datum":3.61},"y":{"datum":10}}},
 {"data":{"name":"vl"},"transform":[{"filter":"datum.p=='10'"}],"mark":{"type":"rule","color":"#222222","strokeWidth":1.8,"strokeDash":[2.5,4.5]},"encoding":{"x":{"field":"r","type":"quantitative"},"y":{"datum":50},"y2":{"datum":212}}},
 {"data":{"name":"c"},"transform":[{"filter":"datum.p=='10' && datum.s!='m'"}],"mark":{"type":"line","color":"#111111","strokeWidth":2.7,"strokeDash":[2.7,4],"strokeCap":"butt"},"encoding":{"x":{"field":"r","type":"quantitative"},"y":{"field":"t","type":"quantitative"},"detail":{"field":"s","type":"nominal"}}},
 {"data":{"values":[{}]},"mark":{"type":"text","text":"10:00","font":"Liberation Sans","fontSize":32,"align":"left","baseline":"alphabetic","color":"#1a1a1a"},"encoding":{"x":{"datum":0.18},"y":{"datum":226.7}}}
]},
{"width":275,"height":210,"layer":[
 {"data":{"name":"c"},"transform":[{"filter":"datum.p=='S' && datum.s=='m'"}],"mark":{"type":"line","color":"#111111","strokeWidth":2.6},"encoding":{
  "x":{"field":"r","type":"quantitative","scale":{"domain":[0,3.354],"nice":false,"zero":false},"axis":{"title":"Radius (mm)","values":[0,0.25,0.5,0.75,1,1.25,1.5,1.75,2,2.25,2.5,2.75,3],"labelExpr":"datum.value == 0.5 ? '.5' : (datum.value % 0.5 == 0 ? '' + datum.value : '')","tickSize":{"condition":{"test":"datum.value % 0.5 == 0","value":5},"value":3}}},
  "y":{"field":"t","type":"quantitative","scale":{"domain":[50,255],"nice":false,"zero":false},"axis":{"title":"Superior RNFL Thickness (µm)","values":[50,75,100,125,150,175,200,225],"labelExpr":"datum.value % 50 == 0 ? '' + datum.value : ''","tickSize":{"condition":{"test":"datum.value % 50 == 0","value":5},"value":3}}}}},
 {"data":{"values":[{}]},"mark":{"type":"rule","color":"#d4d4d4","strokeWidth":1.5},"encoding":{"x":{"datum":-0.89},"x2":{"datum":3.68},"y":{"datum":15}}},
 {"data":{"values":[{}]},"mark":{"type":"rule","color":"#111111","strokeWidth":4},"encoding":{"x":{"datum":3.354},"y":{"datum":302},"y2":{"datum":0}}},
 {"data":{"name":"vl"},"transform":[{"filter":"datum.p=='S'"}],"mark":{"type":"rule","color":"#222222","strokeWidth":1.8,"strokeDash":[2.5,4.5]},"encoding":{"x":{"field":"r","type":"quantitative"},"y":{"datum":50},"y2":{"datum":212}}},
 {"data":{"name":"c"},"transform":[{"filter":"datum.p=='S' && datum.s!='m'"}],"mark":{"type":"line","color":"#111111","strokeWidth":2.7,"strokeDash":[2.7,4],"strokeCap":"butt"},"encoding":{"x":{"field":"r","type":"quantitative"},"y":{"field":"t","type":"quantitative"},"detail":{"field":"s","type":"nominal"}}},
 {"data":{"values":[{}]},"mark":{"type":"text","text":"Superior","font":"Liberation Sans","fontSize":32,"align":"left","baseline":"alphabetic","color":"#1a1a1a"},"encoding":{"x":{"datum":0.02},"y":{"datum":226.7}}}
]},
{"width":257,"height":210,"layer":[
 {"data":{"name":"c"},"transform":[{"filter":"datum.p=='11' && datum.s=='m'"}],"mark":{"type":"line","color":"#111111","strokeWidth":2.6},"encoding":{
  "x":{"field":"r","type":"quantitative","scale":{"domain":[0,3.134],"nice":false,"zero":false},"axis":{"title":"Radius (mm)","values":[0,0.25,0.5,0.75,1,1.25,1.5,1.75,2,2.25,2.5,2.75,3],"labelExpr":"datum.value == 0.5 ? '.5' : (datum.value % 0.5 == 0 ? '' + datum.value : '')","tickSize":{"condition":{"test":"datum.value % 0.5 == 0","value":5},"value":3}}},
  "y":{"field":"t","type":"quantitative","scale":{"domain":[50,255],"nice":false,"zero":false},"axis":{"title":"11","values":[50,75,100,125,150,175,200,225],"labelExpr":"datum.value % 50 == 0 ? '' + datum.value : ''","tickSize":{"condition":{"test":"datum.value % 50 == 0","value":5},"value":3}}}}},
 {"data":{"values":[{}]},"mark":{"type":"rule","color":"#d4d4d4","strokeWidth":1.5},"encoding":{"x":{"datum":-0.34},"x2":{"datum":3.47},"y":{"datum":15}}},
 {"data":{"name":"vl"},"transform":[{"filter":"datum.p=='11'"}],"mark":{"type":"rule","color":"#222222","strokeWidth":1.8,"strokeDash":[2.5,4.5]},"encoding":{"x":{"field":"r","type":"quantitative"},"y":{"datum":50},"y2":{"datum":212}}},
 {"data":{"name":"c"},"transform":[{"filter":"datum.p=='11' && datum.s!='m'"}],"mark":{"type":"line","color":"#111111","strokeWidth":2.7,"strokeDash":[2.7,4],"strokeCap":"butt"},"encoding":{"x":{"field":"r","type":"quantitative"},"y":{"field":"t","type":"quantitative"},"detail":{"field":"s","type":"nominal"}}},
 {"data":{"values":[{}]},"mark":{"type":"text","text":"11:00","font":"Liberation Sans","fontSize":32,"align":"left","baseline":"alphabetic","color":"#1a1a1a"},"encoding":{"x":{"datum":0.22},"y":{"datum":224.7}}}
]},
{"width":267,"height":210,"layer":[
 {"data":{"name":"c"},"transform":[{"filter":"datum.p=='12' && datum.s=='m'"}],"mark":{"type":"line","color":"#111111","strokeWidth":2.6},"encoding":{
  "x":{"field":"r","type":"quantitative","scale":{"domain":[0,3.256],"nice":false,"zero":false},"axis":{"title":"Radius (mm)","values":[0,0.25,0.5,0.75,1,1.25,1.5,1.75,2,2.25,2.5,2.75,3,3.25],"labelExpr":"datum.value == 0.5 ? '.5' : (datum.value % 0.5 == 0 ? '' + datum.value : '')","tickSize":{"condition":{"test":"datum.value % 0.5 == 0","value":5},"value":3}}},
  "y":{"field":"t","type":"quantitative","scale":{"domain":[50,255],"nice":false,"zero":false},"axis":{"title":"12","values":[50,75,100,125,150,175,200,225],"labelExpr":"datum.value % 50 == 0 ? '' + datum.value : ''","tickSize":{"condition":{"test":"datum.value % 50 == 0","value":5},"value":3}}}}},
 {"data":{"values":[{}]},"mark":{"type":"rule","color":"#d4d4d4","strokeWidth":1.5},"encoding":{"x":{"datum":-0.33},"x2":{"datum":3.6},"y":{"datum":15}}},
 {"data":{"name":"vl"},"transform":[{"filter":"datum.p=='12'"}],"mark":{"type":"rule","color":"#222222","strokeWidth":1.8,"strokeDash":[2.5,4.5]},"encoding":{"x":{"field":"r","type":"quantitative"},"y":{"datum":50},"y2":{"datum":212}}},
 {"data":{"name":"c"},"transform":[{"filter":"datum.p=='12' && datum.s!='m'"}],"mark":{"type":"line","color":"#111111","strokeWidth":2.7,"strokeDash":[2.7,4],"strokeCap":"butt"},"encoding":{"x":{"field":"r","type":"quantitative"},"y":{"field":"t","type":"quantitative"},"detail":{"field":"s","type":"nominal"}}},
 {"data":{"values":[{}]},"mark":{"type":"text","text":"12:00","font":"Liberation Sans","fontSize":32,"align":"left","baseline":"alphabetic","color":"#1a1a1a"},"encoding":{"x":{"datum":0.18},"y":{"datum":223.8}}}
]},
{"width":273,"height":210,"layer":[
 {"data":{"name":"c"},"transform":[{"filter":"datum.p=='1' && datum.s=='m'"}],"mark":{"type":"line","color":"#111111","strokeWidth":2.6},"encoding":{
  "x":{"field":"r","type":"quantitative","scale":{"domain":[0,3.329],"nice":false,"zero":false},"axis":{"title":"Radius (mm)","values":[0,0.25,0.5,0.75,1,1.25,1.5,1.75,2,2.25,2.5,2.75,3,3.25],"labelExpr":"datum.value == 0.5 ? '.5' : (datum.value % 0.5 == 0 ? '' + datum.value : '')","tickSize":{"condition":{"test":"datum.value % 0.5 == 0","value":5},"value":3}}},
  "y":{"field":"t","type":"quantitative","scale":{"domain":[50,255],"nice":false,"zero":false},"axis":{"title":"1","values":[50,75,100,125,150,175,200,225],"labelExpr":"datum.value % 50 == 0 ? '' + datum.value : ''","tickSize":{"condition":{"test":"datum.value % 50 == 0","value":5},"value":3}}}}},
 {"data":{"values":[{}]},"mark":{"type":"rule","color":"#d4d4d4","strokeWidth":1.5},"encoding":{"x":{"datum":-0.33},"x2":{"datum":3.61},"y":{"datum":15}}},
 {"data":{"name":"vl"},"transform":[{"filter":"datum.p=='1'"}],"mark":{"type":"rule","color":"#222222","strokeWidth":1.8,"strokeDash":[2.5,4.5]},"encoding":{"x":{"field":"r","type":"quantitative"},"y":{"datum":50},"y2":{"datum":212}}},
 {"data":{"name":"c"},"transform":[{"filter":"datum.p=='1' && datum.s!='m'"}],"mark":{"type":"line","color":"#111111","strokeWidth":2.7,"strokeDash":[2.7,4],"strokeCap":"butt"},"encoding":{"x":{"field":"r","type":"quantitative"},"y":{"field":"t","type":"quantitative"},"detail":{"field":"s","type":"nominal"}}},
 {"data":{"values":[{}]},"mark":{"type":"text","text":"1:00","font":"Liberation Sans","fontSize":32,"align":"left","baseline":"alphabetic","color":"#1a1a1a"},"encoding":{"x":{"datum":0.18},"y":{"datum":216.9}}}
]},
{"width":275,"height":210,"layer":[
 {"data":{"name":"c"},"transform":[{"filter":"datum.p=='N' && datum.s=='m'"}],"mark":{"type":"line","color":"#111111","strokeWidth":2.6},"encoding":{
  "x":{"field":"r","type":"quantitative","scale":{"domain":[0,3.354],"nice":false,"zero":false},"axis":{"title":"Radius (mm)","values":[0,0.25,0.5,0.75,1,1.25,1.5,1.75,2,2.25,2.5,2.75,3],"labelExpr":"datum.value == 0.5 ? '.5' : (datum.value % 0.5 == 0 ? '' + datum.value : '')","tickSize":{"condition":{"test":"datum.value % 0.5 == 0","value":5},"value":3}}},
  "y":{"field":"t","type":"quantitative","scale":{"domain":[50,255],"nice":false,"zero":false},"axis":{"title":"Nasal RNFL Thickness (µm)","values":[50,75,100,125,150,175,200,225],"labelExpr":"datum.value % 50 == 0 ? '' + datum.value : ''","tickSize":{"condition":{"test":"datum.value % 50 == 0","value":5},"value":3}}}}},
 {"data":{"values":[{}]},"mark":{"type":"rule","color":"#d4d4d4","strokeWidth":1.5},"encoding":{"x":{"datum":-0.89},"x2":{"datum":3.68},"y":{"datum":16}}},
 {"data":{"values":[{}]},"mark":{"type":"rule","color":"#111111","strokeWidth":4},"encoding":{"x":{"datum":3.354},"y":{"datum":302},"y2":{"datum":0}}},
 {"data":{"name":"vl"},"transform":[{"filter":"datum.p=='N'"}],"mark":{"type":"rule","color":"#222222","strokeWidth":1.8,"strokeDash":[2.5,4.5]},"encoding":{"x":{"field":"r","type":"quantitative"},"y":{"datum":50},"y2":{"datum":212}}},
 {"data":{"name":"c"},"transform":[{"filter":"datum.p=='N' && datum.s!='m'"}],"mark":{"type":"line","color":"#111111","strokeWidth":2.7,"strokeDash":[2.7,4],"strokeCap":"butt"},"encoding":{"x":{"field":"r","type":"quantitative"},"y":{"field":"t","type":"quantitative"},"detail":{"field":"s","type":"nominal"}}},
 {"data":{"values":[{}]},"mark":{"type":"text","text":"Nasal","font":"Liberation Sans","fontSize":32,"align":"left","baseline":"alphabetic","color":"#1a1a1a"},"encoding":{"x":{"datum":0.08},"y":{"datum":223.8}}}
]},
{"width":257,"height":210,"layer":[
 {"data":{"name":"c"},"transform":[{"filter":"datum.p=='2' && datum.s=='m'"}],"mark":{"type":"line","color":"#111111","strokeWidth":2.6},"encoding":{
  "x":{"field":"r","type":"quantitative","scale":{"domain":[0,3.134],"nice":false,"zero":false},"axis":{"title":"Radius (mm)","values":[0,0.25,0.5,0.75,1,1.25,1.5,1.75,2,2.25,2.5,2.75,3],"labelExpr":"datum.value == 0.5 ? '.5' : (datum.value % 0.5 == 0 ? '' + datum.value : '')","tickSize":{"condition":{"test":"datum.value % 0.5 == 0","value":5},"value":3}}},
  "y":{"field":"t","type":"quantitative","scale":{"domain":[50,255],"nice":false,"zero":false},"axis":{"title":"2","values":[50,75,100,125,150,175,200,225],"labelExpr":"datum.value % 50 == 0 ? '' + datum.value : ''","tickSize":{"condition":{"test":"datum.value % 50 == 0","value":5},"value":3}}}}},
 {"data":{"values":[{}]},"mark":{"type":"rule","color":"#d4d4d4","strokeWidth":1.5},"encoding":{"x":{"datum":-0.34},"x2":{"datum":3.47},"y":{"datum":16}}},
 {"data":{"name":"vl"},"transform":[{"filter":"datum.p=='2'"}],"mark":{"type":"rule","color":"#222222","strokeWidth":1.8,"strokeDash":[2.5,4.5]},"encoding":{"x":{"field":"r","type":"quantitative"},"y":{"datum":50},"y2":{"datum":212}}},
 {"data":{"name":"c"},"transform":[{"filter":"datum.p=='2' && datum.s!='m'"}],"mark":{"type":"line","color":"#111111","strokeWidth":2.7,"strokeDash":[2.7,4],"strokeCap":"butt"},"encoding":{"x":{"field":"r","type":"quantitative"},"y":{"field":"t","type":"quantitative"},"detail":{"field":"s","type":"nominal"}}},
 {"data":{"values":[{}]},"mark":{"type":"text","text":"2:00","font":"Liberation Sans","fontSize":32,"align":"left","baseline":"alphabetic","color":"#1a1a1a"},"encoding":{"x":{"datum":0.17},"y":{"datum":222.8}}}
]},
{"width":267,"height":210,"layer":[
 {"data":{"name":"c"},"transform":[{"filter":"datum.p=='3' && datum.s=='m'"}],"mark":{"type":"line","color":"#111111","strokeWidth":2.6},"encoding":{
  "x":{"field":"r","type":"quantitative","scale":{"domain":[0,3.256],"nice":false,"zero":false},"axis":{"title":"Radius (mm)","values":[0,0.25,0.5,0.75,1,1.25,1.5,1.75,2,2.25,2.5,2.75,3,3.25],"labelExpr":"datum.value == 0.5 ? '.5' : (datum.value % 0.5 == 0 ? '' + datum.value : '')","tickSize":{"condition":{"test":"datum.value % 0.5 == 0","value":5},"value":3}}},
  "y":{"field":"t","type":"quantitative","scale":{"domain":[50,255],"nice":false,"zero":false},"axis":{"title":"3","values":[50,75,100,125,150,175,200,225],"labelExpr":"datum.value % 50 == 0 ? '' + datum.value : ''","tickSize":{"condition":{"test":"datum.value % 50 == 0","value":5},"value":3}}}}},
 {"data":{"values":[{}]},"mark":{"type":"rule","color":"#d4d4d4","strokeWidth":1.5},"encoding":{"x":{"datum":-0.33},"x2":{"datum":3.6},"y":{"datum":16}}},
 {"data":{"name":"vl"},"transform":[{"filter":"datum.p=='3'"}],"mark":{"type":"rule","color":"#222222","strokeWidth":1.8,"strokeDash":[2.5,4.5]},"encoding":{"x":{"field":"r","type":"quantitative"},"y":{"datum":50},"y2":{"datum":212}}},
 {"data":{"name":"c"},"transform":[{"filter":"datum.p=='3' && datum.s!='m'"}],"mark":{"type":"line","color":"#111111","strokeWidth":2.7,"strokeDash":[2.7,4],"strokeCap":"butt"},"encoding":{"x":{"field":"r","type":"quantitative"},"y":{"field":"t","type":"quantitative"},"detail":{"field":"s","type":"nominal"}}},
 {"data":{"values":[{}]},"mark":{"type":"text","text":"3:00","font":"Liberation Sans","fontSize":32,"align":"left","baseline":"alphabetic","color":"#1a1a1a"},"encoding":{"x":{"datum":0.17},"y":{"datum":219.9}}}
]},
{"width":273,"height":210,"layer":[
 {"data":{"name":"c"},"transform":[{"filter":"datum.p=='4' && datum.s=='m'"}],"mark":{"type":"line","color":"#111111","strokeWidth":2.6},"encoding":{
  "x":{"field":"r","type":"quantitative","scale":{"domain":[0,3.329],"nice":false,"zero":false},"axis":{"title":"Radius (mm)","values":[0,0.25,0.5,0.75,1,1.25,1.5,1.75,2,2.25,2.5,2.75,3,3.25],"labelExpr":"datum.value == 0.5 ? '.5' : (datum.value % 0.5 == 0 ? '' + datum.value : '')","tickSize":{"condition":{"test":"datum.value % 0.5 == 0","value":5},"value":3}}},
  "y":{"field":"t","type":"quantitative","scale":{"domain":[50,255],"nice":false,"zero":false},"axis":{"title":"4","values":[50,75,100,125,150,175,200,225],"labelExpr":"datum.value % 50 == 0 ? '' + datum.value : ''","tickSize":{"condition":{"test":"datum.value % 50 == 0","value":5},"value":3}}}}},
 {"data":{"values":[{}]},"mark":{"type":"rule","color":"#d4d4d4","strokeWidth":1.5},"encoding":{"x":{"datum":-0.33},"x2":{"datum":3.61},"y":{"datum":16}}},
 {"data":{"name":"vl"},"transform":[{"filter":"datum.p=='4'"}],"mark":{"type":"rule","color":"#222222","strokeWidth":1.8,"strokeDash":[2.5,4.5]},"encoding":{"x":{"field":"r","type":"quantitative"},"y":{"datum":50},"y2":{"datum":212}}},
 {"data":{"name":"c"},"transform":[{"filter":"datum.p=='4' && datum.s!='m'"}],"mark":{"type":"line","color":"#111111","strokeWidth":2.7,"strokeDash":[2.7,4],"strokeCap":"butt"},"encoding":{"x":{"field":"r","type":"quantitative"},"y":{"field":"t","type":"quantitative"},"detail":{"field":"s","type":"nominal"}}},
 {"data":{"values":[{}]},"mark":{"type":"text","text":"4:00","font":"Liberation Sans","fontSize":32,"align":"left","baseline":"alphabetic","color":"#1a1a1a"},"encoding":{"x":{"datum":0.18},"y":{"datum":215}}}
]},
{"width":275,"height":210,"layer":[
 {"data":{"name":"c"},"transform":[{"filter":"datum.p=='I' && datum.s=='m'"}],"mark":{"type":"line","color":"#111111","strokeWidth":2.6},"encoding":{
  "x":{"field":"r","type":"quantitative","scale":{"domain":[0,3.354],"nice":false,"zero":false},"axis":{"title":"Radius (mm)","values":[0,0.25,0.5,0.75,1,1.25,1.5,1.75,2,2.25,2.5,2.75,3],"labelExpr":"datum.value == 0.5 ? '.5' : (datum.value % 0.5 == 0 ? '' + datum.value : '')","tickSize":{"condition":{"test":"datum.value % 0.5 == 0","value":5},"value":3}}},
  "y":{"field":"t","type":"quantitative","scale":{"domain":[50,255],"nice":false,"zero":false},"axis":{"title":"Inferior RNFL Thickness (µm)","values":[50,75,100,125,150,175,200,225],"labelExpr":"datum.value % 50 == 0 ? '' + datum.value : ''","tickSize":{"condition":{"test":"datum.value % 50 == 0","value":5},"value":3}}}}},
 {"data":{"values":[{}]},"mark":{"type":"rule","color":"#111111","strokeWidth":4},"encoding":{"x":{"datum":3.354},"y":{"datum":302},"y2":{"datum":4}}},
 {"data":{"name":"vl"},"transform":[{"filter":"datum.p=='I'"}],"mark":{"type":"rule","color":"#222222","strokeWidth":1.8,"strokeDash":[2.5,4.5]},"encoding":{"x":{"field":"r","type":"quantitative"},"y":{"datum":50},"y2":{"datum":212}}},
 {"data":{"name":"c"},"transform":[{"filter":"datum.p=='I' && datum.s!='m'"}],"mark":{"type":"line","color":"#111111","strokeWidth":2.7,"strokeDash":[2.7,4],"strokeCap":"butt"},"encoding":{"x":{"field":"r","type":"quantitative"},"y":{"field":"t","type":"quantitative"},"detail":{"field":"s","type":"nominal"}}},
 {"data":{"values":[{}]},"mark":{"type":"text","text":"Inferior","font":"Liberation Sans","fontSize":32,"align":"left","baseline":"alphabetic","color":"#1a1a1a"},"encoding":{"x":{"datum":0.01},"y":{"datum":223.8}}}
]},
{"width":257,"height":210,"layer":[
 {"data":{"name":"c"},"transform":[{"filter":"datum.p=='5' && datum.s=='m'"}],"mark":{"type":"line","color":"#111111","strokeWidth":2.6},"encoding":{
  "x":{"field":"r","type":"quantitative","scale":{"domain":[0,3.134],"nice":false,"zero":false},"axis":{"title":"Radius (mm)","values":[0,0.25,0.5,0.75,1,1.25,1.5,1.75,2,2.25,2.5,2.75,3],"labelExpr":"datum.value == 0.5 ? '.5' : (datum.value % 0.5 == 0 ? '' + datum.value : '')","tickSize":{"condition":{"test":"datum.value % 0.5 == 0","value":5},"value":3}}},
  "y":{"field":"t","type":"quantitative","scale":{"domain":[50,255],"nice":false,"zero":false},"axis":{"title":"5","values":[50,75,100,125,150,175,200,225],"labelExpr":"datum.value % 50 == 0 ? '' + datum.value : ''","tickSize":{"condition":{"test":"datum.value % 50 == 0","value":5},"value":3}}}}},
 {"data":{"name":"vl"},"transform":[{"filter":"datum.p=='5'"}],"mark":{"type":"rule","color":"#222222","strokeWidth":1.8,"strokeDash":[2.5,4.5]},"encoding":{"x":{"field":"r","type":"quantitative"},"y":{"datum":50},"y2":{"datum":212}}},
 {"data":{"name":"c"},"transform":[{"filter":"datum.p=='5' && datum.s!='m'"}],"mark":{"type":"line","color":"#111111","strokeWidth":2.7,"strokeDash":[2.7,4],"strokeCap":"butt"},"encoding":{"x":{"field":"r","type":"quantitative"},"y":{"field":"t","type":"quantitative"},"detail":{"field":"s","type":"nominal"}}},
 {"data":{"values":[{}]},"mark":{"type":"text","text":"5:00","font":"Liberation Sans","fontSize":32,"align":"left","baseline":"alphabetic","color":"#1a1a1a"},"encoding":{"x":{"datum":0.17},"y":{"datum":228.6}}}
]},
{"width":267,"height":210,"layer":[
 {"data":{"name":"c"},"transform":[{"filter":"datum.p=='6' && datum.s=='m'"}],"mark":{"type":"line","color":"#111111","strokeWidth":2.6},"encoding":{
  "x":{"field":"r","type":"quantitative","scale":{"domain":[0,3.256],"nice":false,"zero":false},"axis":{"title":"Radius (mm)","values":[0,0.25,0.5,0.75,1,1.25,1.5,1.75,2,2.25,2.5,2.75,3,3.25],"labelExpr":"datum.value == 0.5 ? '.5' : (datum.value % 0.5 == 0 ? '' + datum.value : '')","tickSize":{"condition":{"test":"datum.value % 0.5 == 0","value":5},"value":3}}},
  "y":{"field":"t","type":"quantitative","scale":{"domain":[50,255],"nice":false,"zero":false},"axis":{"title":"6","values":[50,75,100,125,150,175,200,225],"labelExpr":"datum.value % 50 == 0 ? '' + datum.value : ''","tickSize":{"condition":{"test":"datum.value % 50 == 0","value":5},"value":3}}}}},
 {"data":{"name":"vl"},"transform":[{"filter":"datum.p=='6'"}],"mark":{"type":"rule","color":"#222222","strokeWidth":1.8,"strokeDash":[2.5,4.5]},"encoding":{"x":{"field":"r","type":"quantitative"},"y":{"datum":50},"y2":{"datum":212}}},
 {"data":{"name":"c"},"transform":[{"filter":"datum.p=='6' && datum.s!='m'"}],"mark":{"type":"line","color":"#111111","strokeWidth":2.7,"strokeDash":[2.7,4],"strokeCap":"butt"},"encoding":{"x":{"field":"r","type":"quantitative"},"y":{"field":"t","type":"quantitative"},"detail":{"field":"s","type":"nominal"}}},
 {"data":{"values":[{}]},"mark":{"type":"text","text":"6:00","font":"Liberation Sans","fontSize":32,"align":"left","baseline":"alphabetic","color":"#1a1a1a"},"encoding":{"x":{"datum":0.2},"y":{"datum":226.7}}}
]},
{"width":273,"height":210,"layer":[
 {"data":{"name":"c"},"transform":[{"filter":"datum.p=='7' && datum.s=='m'"}],"mark":{"type":"line","color":"#111111","strokeWidth":2.6},"encoding":{
  "x":{"field":"r","type":"quantitative","scale":{"domain":[0,3.329],"nice":false,"zero":false},"axis":{"title":"Radius (mm)","values":[0,0.25,0.5,0.75,1,1.25,1.5,1.75,2,2.25,2.5,2.75,3,3.25],"labelExpr":"datum.value == 0.5 ? '.5' : (datum.value % 0.5 == 0 ? '' + datum.value : '')","tickSize":{"condition":{"test":"datum.value % 0.5 == 0","value":5},"value":3}}},
  "y":{"field":"t","type":"quantitative","scale":{"domain":[50,255],"nice":false,"zero":false},"axis":{"title":"7","values":[50,75,100,125,150,175,200,225],"labelExpr":"datum.value % 50 == 0 ? '' + datum.value : ''","tickSize":{"condition":{"test":"datum.value % 50 == 0","value":5},"value":3}}}}},
 {"data":{"name":"vl"},"transform":[{"filter":"datum.p=='7'"}],"mark":{"type":"rule","color":"#222222","strokeWidth":1.8,"strokeDash":[2.5,4.5]},"encoding":{"x":{"field":"r","type":"quantitative"},"y":{"datum":50},"y2":{"datum":212}}},
 {"data":{"name":"c"},"transform":[{"filter":"datum.p=='7' && datum.s!='m'"}],"mark":{"type":"line","color":"#111111","strokeWidth":2.7,"strokeDash":[2.7,4],"strokeCap":"butt"},"encoding":{"x":{"field":"r","type":"quantitative"},"y":{"field":"t","type":"quantitative"},"detail":{"field":"s","type":"nominal"}}},
 {"data":{"values":[{}]},"mark":{"type":"text","text":"7:00","font":"Liberation Sans","fontSize":32,"align":"left","baseline":"alphabetic","color":"#1a1a1a"},"encoding":{"x":{"datum":0.21},"y":{"datum":222.8}}}
]}
]
}
